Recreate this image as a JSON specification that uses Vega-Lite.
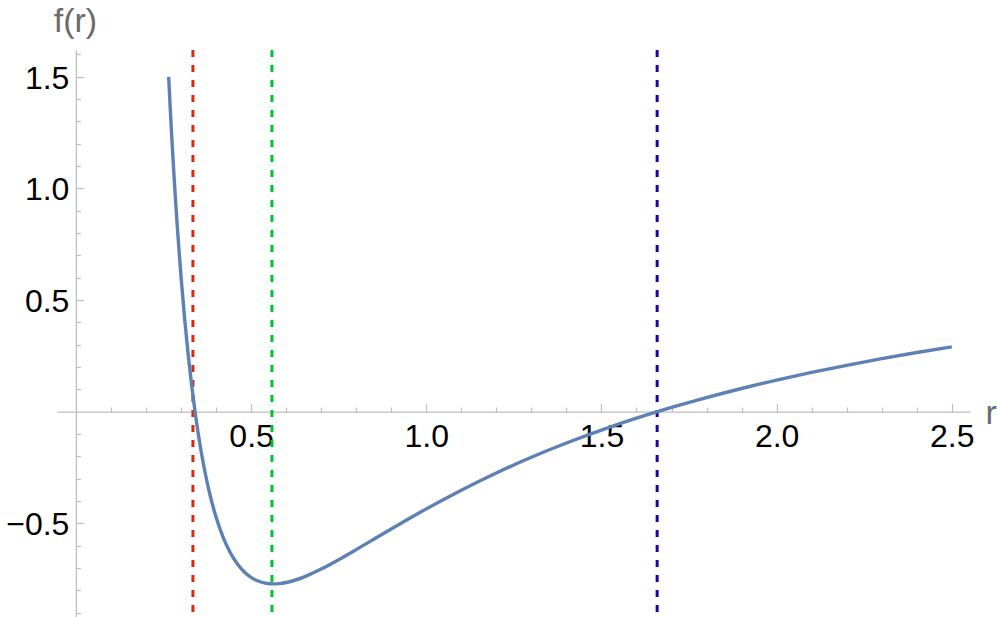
{
  "$schema": "https://vega.github.io/schema/vega-lite/v6.json",
  "width": 913,
  "height": 567,
  "padding": {"left": 57, "top": 50, "right": 27, "bottom": 0},
  "autosize": {"type": "none"},
  "background": "white",
  "config": {"view": {"stroke": null}, "axis": {"labelOverlap": false}},
  "datasets": {
    "curve": [
      {"r": 0.2647, "f": 1.4995},
      {"r": 0.27, "f": 1.3347},
      {"r": 0.275, "f": 1.1904},
      {"r": 0.28, "f": 1.0561},
      {"r": 0.285, "f": 0.9311},
      {"r": 0.29, "f": 0.8145},
      {"r": 0.30, "f": 0.6044},
      {"r": 0.31, "f": 0.4214},
      {"r": 0.32, "f": 0.2617},
      {"r": 0.33, "f": 0.1221},
      {"r": 0.34, "f": 0.0},
      {"r": 0.35, "f": -0.1069},
      {"r": 0.36, "f": -0.2007},
      {"r": 0.37, "f": -0.2827},
      {"r": 0.38, "f": -0.3546},
      {"r": 0.40, "f": -0.4725},
      {"r": 0.42, "f": -0.5624},
      {"r": 0.44, "f": -0.6302},
      {"r": 0.46, "f": -0.6805},
      {"r": 0.48, "f": -0.7170},
      {"r": 0.50, "f": -0.7424},
      {"r": 0.52, "f": -0.7589},
      {"r": 0.54, "f": -0.7682},
      {"r": 0.5644, "f": -0.7718},
      {"r": 0.58, "f": -0.7705},
      {"r": 0.60, "f": -0.7656},
      {"r": 0.65, "f": -0.7411},
      {"r": 0.70, "f": -0.7053},
      {"r": 0.75, "f": -0.6633},
      {"r": 0.80, "f": -0.6181},
      {"r": 0.85, "f": -0.5718},
      {"r": 0.90, "f": -0.5254},
      {"r": 0.95, "f": -0.4799},
      {"r": 1.0, "f": -0.4356},
      {"r": 1.1, "f": -0.3517},
      {"r": 1.2, "f": -0.2747},
      {"r": 1.3, "f": -0.2045},
      {"r": 1.4, "f": -0.1406},
      {"r": 1.5, "f": -0.0825},
      {"r": 1.6, "f": -0.0295},
      {"r": 1.7, "f": 0.0188},
      {"r": 1.8, "f": 0.0631},
      {"r": 1.9, "f": 0.1037},
      {"r": 2.0, "f": 0.1411},
      {"r": 2.1, "f": 0.1756},
      {"r": 2.2, "f": 0.2075},
      {"r": 2.3, "f": 0.2371},
      {"r": 2.4, "f": 0.2647},
      {"r": 2.5, "f": 0.2903}
    ],
    "lines": [
      {"r": 0.334, "name": "r_minus"},
      {"r": 0.5595, "name": "r_min"},
      {"r": 1.659, "name": "r_plus"}
    ]
  },
  "encoding": {
    "x": {"field": "r", "type": "quantitative", "scale": {"domain": [-0.054, 2.552], "nice": false, "zero": false}, "axis": {
      "values": [0.1,0.2,0.3,0.4,0.5,0.6,0.7,0.8,0.9,1.0,1.1,1.2,1.3,1.4,1.5,1.6,1.7,1.8,1.9,2.0,2.1,2.2,2.3,2.4,2.5],
      "format": ".1f",
      "labelExpr": "abs(datum.value*2 - round(datum.value*2)) < 0.001 ? datum.label : ''",
      "orient": "bottom",
      "offset": -205.4,
      "grid": false,
      "domainColor": "#bdbdbd",
      "domainWidth": 1.3,
      "tickColor": "#bdbdbd",
      "tickWidth": 1.2,
      "tickSize": {"condition": {"test": "abs(datum.value*2 - round(datum.value*2)) < 0.001", "value": -8}, "value": -4.5},
      "labelFont": "Liberation Sans",
      "labelFontSize": 32,
      "labelColor": "black",
      "labelBaseline": "alphabetic",
      "labelPadding": 43,
      "labelFlush": false,
      "labelOverlap": false,
      "labelBound": false,
      "title": "r",
      "titleFont": "Liberation Sans",
      "titleFontSize": 34,
      "titleFontWeight": "normal",
      "titleColor": "#6b6b6b",
      "titleAlign": "left",
      "titleBaseline": "alphabetic",
      "titleAnchor": null,
      "titleX": 928,
      "titleY": 11.5
    }}
  },
  "layer": [
    {
      "data": {"name": "lines"},
      "mark": {"type": "rule", "strokeWidth": 3, "strokeDash": [7, 8]},
      "encoding": {
        "color": {"field": "name", "type": "nominal", "scale": {"domain": ["r_minus", "r_min", "r_plus"], "range": ["#D42B0E", "#00C22B", "#2200A0"]}, "legend": null}
      }
    },
    {
      "data": {"name": "curve"},
      "mark": {"type": "line", "color": "#5E81B5", "strokeWidth": 3.4, "interpolate": "monotone"},
      "encoding": {
        "y": {"field": "f", "type": "quantitative", "scale": {"domain": [-0.92, 1.62], "nice": false, "zero": false}, "axis": {
          "values": [-0.9,-0.8,-0.7,-0.6,-0.5,-0.4,-0.3,-0.2,-0.1,0.1,0.2,0.3,0.4,0.5,0.6,0.7,0.8,0.9,1.0,1.1,1.2,1.3,1.4,1.5,1.6],
          "format": ".1f",
          "labelExpr": "abs(datum.value*2 - round(datum.value*2)) < 0.001 ? datum.label : ''",
          "orient": "left",
          "offset": -18.9,
          "grid": false,
          "domainColor": "#bdbdbd",
          "domainWidth": 1.3,
          "tickColor": "#bdbdbd",
          "tickWidth": 1.2,
          "tickSize": {"condition": {"test": "abs(datum.value*2 - round(datum.value*2)) < 0.001", "value": -8}, "value": -4.5},
          "labelFont": "Liberation Sans",
          "labelFontSize": 32,
          "labelColor": "black",
          "labelBaseline": "alphabetic",
          "labelOffset": 11.5,
          "labelPadding": 15,
          "labelFlush": false,
          "labelOverlap": false,
          "labelBound": false,
          "title": "f(r)",
          "titleFont": "Liberation Sans",
          "titleFontSize": 34,
          "titleFontWeight": "normal",
          "titleColor": "#6b6b6b",
          "titleAlign": "center",
          "titleBaseline": "alphabetic",
          "titleAngle": 0,
          "titleAnchor": null,
          "titleX": -1,
          "titleY": -19
        }}
      }
    }
  ]
}
